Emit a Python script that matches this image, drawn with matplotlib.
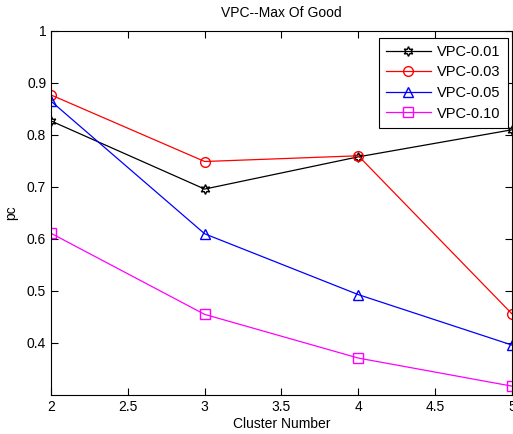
import matplotlib
matplotlib.use("Agg")
from matplotlib import pyplot as plt

plt.rcParams['font.family'] = ['Liberation Sans', 'DejaVu Sans']

cluster_number = [2, 3, 4, 5]
vpc_001 = [0.827, 0.696, 0.758, 0.810]
vpc_003 = [0.877, 0.749, 0.760, 0.456]
vpc_005 = [0.865, 0.610, 0.493, 0.396]
vpc_010 = [0.611, 0.455, 0.371, 0.317]

series = [
    ("VPC-0.01", vpc_001, "black", (6, 1, 0)),
    ("VPC-0.03", vpc_003, "red", "o"),
    ("VPC-0.05", vpc_005, "blue", "^"),
    ("VPC-0.10", vpc_010, "magenta", "s"),
]

fig = plt.figure(figsize=(5.13, 4.34), dpi=100)
ax = fig.add_axes([0.0994, 0.0899, 0.8986, 0.8387])

for label, values, color, marker in series:
    ax.plot(cluster_number, values, color=color, marker=marker, markersize=7,
            markerfacecolor='none', markeredgecolor=color, linewidth=0.9, label=label)

ax.set_xlim(2, 5)
ax.set_ylim(0.3, 1)
ax.set_xticks([2, 2.5, 3, 3.5, 4, 4.5, 5])
ax.set_xticklabels(["2", "2.5", "3", "3.5", "4", "4.5", "5"])
ax.set_yticks([0.4, 0.5, 0.6, 0.7, 0.8, 0.9, 1])
ax.set_yticklabels(["0.4", "0.5", "0.6", "0.7", "0.8", "0.9", "1"])
ax.tick_params(direction='in', top=True, right=True, labelsize=10, length=5)
for s in ax.spines.values():
    s.set_linewidth(0.8)

ax.set_title("VPC--Max Of Good", fontsize=10, pad=10)
ax.set_xlabel("Cluster Number", fontsize=10, labelpad=2)
ax.set_ylabel("pc", fontsize=10, labelpad=6)

leg = ax.legend(loc='upper right', fontsize=10.5, fancybox=False, framealpha=1,
                edgecolor='black', bbox_to_anchor=(0.997, 0.99), borderaxespad=0.2,
                handlelength=3.1, handletextpad=0.4, labelspacing=0.45, borderpad=0.5)
leg.get_frame().set_linewidth(0.8)

fig.savefig("out.png", dpi=100, facecolor='white')
